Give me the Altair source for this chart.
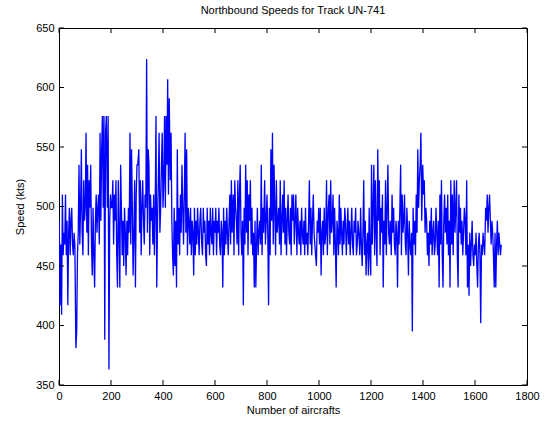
import altair as alt
import pandas as pd

speeds = [
    488, 417, 468, 409, 510, 459, 478, 468, 510, 459, 488, 417, 478, 499, 459, 488, 499, 468, 459, 478, 468, 381, 395, 459, 478, 535, 468, 499, 548, 478, 459, 522, 488, 499,
    562, 478, 535, 459, 522, 499, 535, 468, 442, 499, 459, 432, 488, 510, 478, 499, 510, 468, 562, 488, 548, 576, 499, 576, 388, 562, 576, 499, 576, 363, 488, 510, 499,
    499, 522, 468, 510, 488, 522, 459, 432, 522, 478, 432, 535, 499, 459, 488, 450, 499, 478, 442, 488, 459, 499, 478, 562, 468, 548, 499, 442, 478, 522, 432, 510, 535,
    535, 548, 478, 522, 459, 499, 522, 488, 468, 510, 499, 624, 478, 548, 535, 459, 510, 488, 499, 468, 510, 459, 499, 576, 432, 488, 522, 562, 478, 499, 535, 562, 499,
    522, 576, 499, 576, 535, 607, 510, 591, 522, 562, 488, 459, 442, 499, 450, 488, 432, 548, 468, 499, 459, 510, 478, 535, 499, 468, 510, 562, 478, 548, 459, 499, 488,
    468, 499, 459, 488, 478, 442, 499, 459, 488, 468, 499, 478, 459, 488, 499, 468, 459, 499, 478, 488, 459, 450, 499, 468, 488, 459, 499, 478, 468, 499, 459, 488, 478,
    499, 459, 488, 478, 499, 468, 459, 488, 478, 432, 499, 459, 488, 468, 499, 478, 459, 488, 510, 468, 522, 478, 510, 459, 522, 499, 488, 468, 522, 459, 510, 535, 478,
    459, 488, 417, 499, 468, 535, 478, 522, 459, 510, 488, 522, 468, 499, 459, 478, 432, 488, 432, 468, 499, 459, 478, 488, 468, 535, 459, 499, 478, 522, 468, 488, 510,
    478, 417, 499, 459, 548, 488, 562, 468, 535, 499, 459, 522, 478, 488, 499, 468, 522, 459, 488, 510, 478, 522, 468, 499, 459, 488, 510, 478, 468, 499, 459, 510, 488,
    510, 468, 488, 510, 459, 499, 478, 468, 488, 459, 499, 478, 468, 488, 459, 499, 468, 478, 459, 488, 522, 468, 499, 459, 488, 510, 478, 468, 459, 450, 488, 478, 499,
    468, 499, 442, 478, 488, 459, 499, 468, 478, 522, 459, 499, 510, 468, 522, 478, 488, 510, 459, 499, 468, 432, 488, 478, 459, 510, 468, 499, 478, 459, 488, 468, 499,
    488, 459, 478, 499, 468, 488, 459, 478, 499, 468, 459, 488, 478, 499, 459, 468, 488, 478, 459, 499, 468, 450, 478, 522, 459, 488, 442, 468, 478, 442, 499, 459, 442,
    535, 468, 499, 535, 459, 522, 478, 450, 548, 488, 522, 459, 499, 478, 510, 432, 488, 468, 522, 459, 499, 535, 478, 468, 488, 459, 510, 478, 499, 468, 459, 488, 478,
    432, 488, 468, 499, 535, 459, 510, 478, 488, 510, 468, 459, 499, 478, 442, 488, 468, 459, 478, 395, 499, 468, 488, 459, 510, 478, 548, 499, 522, 535, 562, 488, 535,
    510, 522, 478, 499, 488, 459, 478, 450, 488, 468, 499, 459, 478, 488, 459, 468, 499, 478, 459, 488, 432, 510, 468, 522, 459, 432, 488, 510, 478, 499, 468, 510, 459,
    488, 432, 522, 468, 510, 459, 522, 478, 499, 522, 459, 432, 510, 478, 499, 468, 488, 459, 478, 499, 488, 459, 522, 432, 468, 425, 478, 450, 468, 488, 459, 450, 468,
    459, 478, 450, 432, 468, 478, 459, 402, 468, 459, 478, 468, 459, 499, 488, 510, 478, 499, 510, 488, 468, 488, 478, 459, 432, 478, 432, 468, 488, 459, 478, 468, 459, 468,
]
last_aircraft = 1701
x_ticks = [0, 200, 400, 600, 800, 1000, 1200, 1400, 1600, 1800]
y_ticks = [350, 400, 450, 500, 550, 600, 650]

n = len(speeds)
df = pd.DataFrame({
    "aircraft": [1 + round(i * (last_aircraft - 1) / (n - 1)) for i in range(n)],
    "speed": speeds,
})

W, H = 468, 357
FONT = "Liberation Sans"
xscale = alt.Scale(domain=[0, 1800], nice=False, zero=False)
yscale = alt.Scale(domain=[350, 650], nice=False, zero=False)

xaxis = alt.Axis(values=x_ticks, title="Number of aircrafts", grid=False, format="d",
                 ticks=False, domain=False, labelPadding=5,
                 labelFont=FONT, labelFontSize=11, labelColor="black",
                 titleFont=FONT, titleFontSize=11, titleFontWeight="normal",
                 titleColor="black", titlePadding=3, labelFlush=False)
yaxis = alt.Axis(values=y_ticks, title="Speed (kts)", grid=False, format="d",
                 ticks=False, domain=False, labelPadding=5,
                 labelFont=FONT, labelFontSize=11, labelColor="black",
                 titleFont=FONT, titleFontSize=11, titleFontWeight="normal",
                 titleColor="black", titlePadding=10, labelFlush=False)

line = alt.Chart(df).mark_line(color="#0000FF", strokeWidth=1.3, clip=True).encode(
    x=alt.X("aircraft:Q", scale=xscale, axis=xaxis),
    y=alt.Y("speed:Q", scale=yscale, axis=yaxis),
)

xt = pd.DataFrame({"t": x_ticks})
yt = pd.DataFrame({"t": y_ticks})
TL = 5
bottom = alt.Chart(xt).mark_rule(color="black", strokeWidth=1).encode(
    x=alt.X("t:Q", scale=xscale, axis=xaxis), y=alt.value(H), y2=alt.value(H - TL))
top = alt.Chart(xt).mark_rule(color="black", strokeWidth=1).encode(
    x=alt.X("t:Q", scale=xscale, axis=xaxis), y=alt.value(0), y2=alt.value(TL))
left = alt.Chart(yt).mark_rule(color="black", strokeWidth=1).encode(
    y=alt.Y("t:Q", scale=yscale, axis=yaxis), x=alt.value(0), x2=alt.value(TL))
right = alt.Chart(yt).mark_rule(color="black", strokeWidth=1).encode(
    y=alt.Y("t:Q", scale=yscale, axis=yaxis), x=alt.value(W), x2=alt.value(W - TL))

chart = alt.layer(line, bottom, top, left, right).properties(
    width=W, height=H,
    title=alt.TitleParams("Northbound Speeds for Track UN-741", font=FONT, fontSize=11,
                          fontWeight="normal", color="black", offset=6, anchor="middle"),
    autosize=alt.AutoSizeParams(type="none"),
    padding={"left": 59, "top": 28, "right": 23, "bottom": 42},
    background="white",
).configure_view(stroke="black", strokeWidth=1)

chart.save("out.html", embed_options={"renderer": "svg", "actions": False})
